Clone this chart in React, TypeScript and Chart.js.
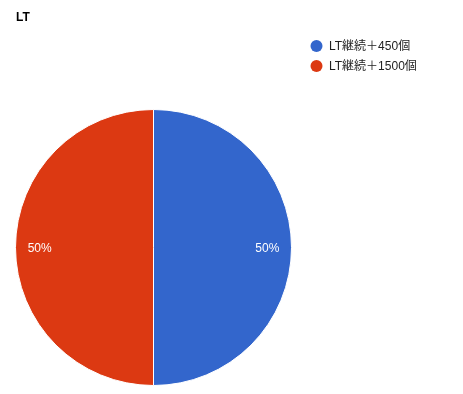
import React, { useEffect, useRef } from "react";
import { Chart, registerables } from "chart.js";

Chart.register(...registerables);

const title = "LT";
const categories = ["LT継続＋450個", "LT継続＋1500個"];
const values = [50, 50];
const colors = ["#3366cc", "#dc3912"];

const overlayPlugin = {
  id: "overlay",
  afterDraw(chart: any) {
    const ctx = chart.ctx as CanvasRenderingContext2D;
    ctx.save();
    // title
    ctx.fillStyle = "#000";
    ctx.font = "bold 12px Arial, 'Liberation Sans', sans-serif";
    ctx.textBaseline = "alphabetic";
    ctx.textAlign = "left";
    ctx.fillText(title, 16, 21);
    // legend
    ctx.font = "12px Arial, 'Liberation Sans', 'Noto Sans CJK JP', sans-serif";
    categories.forEach((c, i) => {
      const cy = 46 + i * 20;
      ctx.beginPath();
      ctx.fillStyle = colors[i];
      ctx.arc(316.5, cy, 6, 0, Math.PI * 2);
      ctx.fill();
      ctx.fillStyle = "#222";
      ctx.textBaseline = "middle";
      ctx.fillText(c, 329, cy + 0.5);
    });
    // slice labels
    const meta = chart.getDatasetMeta(0);
    const total = values.reduce((a, b) => a + b, 0);
    ctx.font = "12px Arial, 'Liberation Sans', sans-serif";
    ctx.fillStyle = "#fff";
    ctx.textAlign = "center";
    ctx.textBaseline = "middle";
    meta.data.forEach((arc: any, i: number) => {
      const p = arc.getProps(["x", "y", "startAngle", "endAngle", "outerRadius"], true);
      const mid = (p.startAngle + p.endAngle) / 2;
      const r = p.outerRadius * 0.825;
      const pct = Math.round((values[i] / total) * 100) + "%";
      ctx.fillText(pct, p.x + Math.cos(mid) * r, p.y + Math.sin(mid) * r + 1);
    });
    ctx.restore();
  },
};

export default function App() {
  const ref = useRef<HTMLCanvasElement>(null);
  useEffect(() => {
    document.body.style.margin = "0";
    const chart = new Chart(ref.current!, {
      type: "pie",
      data: {
        labels: categories,
        datasets: [
          {
            data: values,
            backgroundColor: colors,
            borderColor: "#ffffff",
            borderWidth: 1,
          },
        ],
      },
      options: {
        animation: false,
        responsive: false,
        devicePixelRatio: 1,
        layout: { padding: { left: 15, right: 171, top: 109, bottom: 8 } },
        plugins: {
          legend: { display: false },
          title: { display: false },
          tooltip: { enabled: false },
        },
      },
      plugins: [overlayPlugin],
    });
    return () => chart.destroy();
  }, []);
  return (
    <div style={{ width: 463, height: 394, background: "#fff" }}>
      <canvas ref={ref} width={463} height={394} />
    </div>
  );
}
